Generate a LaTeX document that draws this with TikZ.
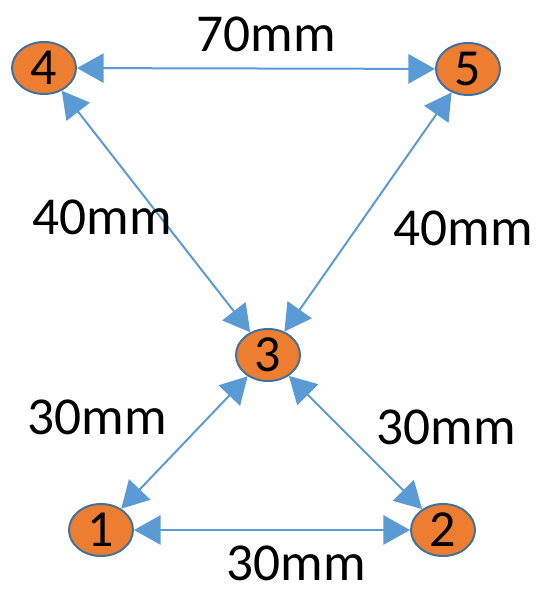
\documentclass[tikz,border=0pt]{standalone}
\usepackage{fontspec}
\setmainfont{Carlito}
\usetikzlibrary{arrows.meta,shapes.geometric}
\definecolor{nodefill}{HTML}{ED7D31}
\definecolor{nodeline}{HTML}{41719C}
\definecolor{linkblue}{HTML}{5B9BD5}

\begin{document}
\begin{tikzpicture}[x=0.75pt,y=-0.75pt,
  >={Triangle[length=20pt,width=22pt]},
  station/.style={ellipse, draw=nodeline, line width=1.5pt, fill=nodefill,
    minimum width=48pt, minimum height=39pt, inner sep=0pt,
    font=\fontsize{39}{39}\selectfont},
  dist/.style={inner sep=0pt, font=\fontsize{40}{40}\selectfont},
  link/.style={<->, draw=linkblue, line width=1.5pt}]
\useasboundingbox (0,0) rectangle (539,591);
\node [station] (n4) at (44,68) {4};
\node [station] (n5) at (468,69) {5};
\node [station] (n3) at (268,355) {3};
\node [station] (n1) at (101,530) {1};
\node [station] (n2) at (443,530) {2};
\draw [link] (n4) -- (n5);
\draw [link] (n4) -- (n3);
\draw [link] (n5) -- (n3);
\draw [link] (n3) -- (n1);
\draw [link] (n3) -- (n2);
\draw [link] (n1) -- (n2);
\node [dist] (d45) at (266,34) {70mm};
\node [dist] (d43) at (102,217) {40mm};
\node [dist] (d53) at (463,228) {40mm};
\node [dist] (d31) at (97,417) {30mm};
\node [dist] (d32) at (446,427) {30mm};
\node [dist] (d12) at (296,563) {30mm};
\end{tikzpicture}
\end{document}
